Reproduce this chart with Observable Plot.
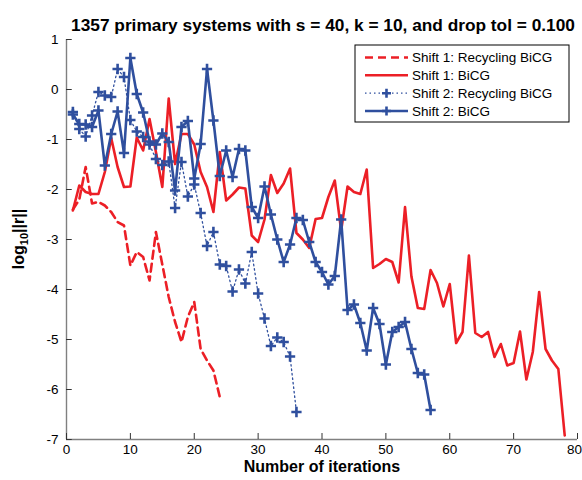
<!DOCTYPE html>
<html><head><meta charset="utf-8">
<script src="https://cdn.jsdelivr.net/npm/d3@7"></script>
<script src="https://cdn.jsdelivr.net/npm/@observablehq/plot@0.6"></script>
<style>
body{margin:0;background:#fff;}
#chart{width:582px;height:480px;}
svg{overflow:visible;}
</style></head><body><div id="chart"></div>
<script>
const title = "1357 primary systems with s = 40, k = 10, and drop tol = 0.100";
const xLabel = "Number of iterations";
const xTicks = [0,10,20,30,40,50,60,70,80];
const yTicks = [1,0,-1,-2,-3,-4,-5,-6,-7];
const seriesNames = ["Shift 1: Recycling BiCG","Shift 1: BiCG","Shift 2: Recycling BiCG","Shift 2: BiCG"];

const shift1Recycling = [-2.4,-2.2,-1.55,-2.28,-2.25,-2.32,-2.45,-2.65,-2.72,-3.52,
  -3.25,-3.35,-3.82,-2.85,-3.5,-4.15,-4.65,-5.05,-4.55,-4.25,
  -5.19,-5.42,-5.62,-6.15];
const shift1BiCG = [-2.42,-1.92,-2.05,-2.09,-2.09,-1.65,-0.97,-1.55,-1.95,-1.94,
  -0.96,-1.22,-0.59,-1.25,-1.95,-0.18,-1.49,-0.89,-0.89,-1.1,
  -1.65,-1.95,-2.45,-1.25,-2.22,-2.1,-1.96,-1.98,-2.92,-3.05,
  -2.6,-1.71,-2.07,-1.88,-1.58,-2.87,-3.0,-3.17,-2.59,-2.57,
  -2.15,-1.82,-2.82,-1.94,-2.05,-2.09,-1.6,-3.57,-3.49,-3.39,
  -3.45,-3.86,-2.35,-3.74,-4.37,-4.39,-3.61,-3.87,-4.34,-3.89,
  -5.07,-4.85,-3.32,-4.87,-4.95,-4.85,-5.35,-5.09,-5.52,-5.47,
  -4.84,-5.8,-5.25,-4.05,-5.19,-5.42,-5.59,-6.92];
const shift2Recycling = [-0.45,-0.79,-0.94,-0.52,-0.05,-0.12,-0.15,0.41,0.25,-0.61,
  -0.84,-0.95,-1.1,-1.39,-1.51,-1.44,-2.37,-1.45,-2.14,-1.9,
  -2.47,-3.13,-2.85,-3.5,-3.53,-4.04,-3.6,-3.88,-3.25,-4.08,
  -4.58,-5.13,-4.96,-5.05,-5.34,-6.45];
const shift2BiCG = [-0.5,-0.69,-0.7,-0.75,-0.42,-1.52,-0.89,-0.44,-1.27,0.63,
  -0.09,-0.46,-1.04,-1.1,-0.88,-1.05,-2.02,-0.75,-0.63,-1.78,
  -1.09,0.41,-0.62,-1.73,-1.22,-1.75,-1.19,-1.22,-2.35,-2.57,
  -1.94,-2.5,-3.0,-3.45,-3.1,-2.57,-2.61,-3.05,-3.45,-3.65,
  -3.9,-3.73,-2.6,-4.41,-4.3,-4.67,-5.22,-4.37,-4.69,-5.5,
  -4.85,-4.75,-4.65,-5.19,-5.67,-5.7,-6.41];

const red = "#ec1f26", blue = "#2f4f9e";
const rows = a => a.map((v, i) => ({it: i + 1, v}));
const r1 = rows(shift1Recycling), r2 = rows(shift1BiCG), r3 = rows(shift2Recycling), r4 = rows(shift2BiCG);
const fmt = d => String(d);
const xTicksInner = xTicks.slice(0, -1), xTickLast = xTicks.slice(-1);

const svg = Plot.plot({
  width: 582, height: 480,
  marginLeft: 66, marginRight: 5, marginTop: 39, marginBottom: 41,
  x: {domain: [0, 80]},
  y: {domain: [-7, 1]},
  style: {fontFamily: "'Liberation Sans', Arial, Helvetica, sans-serif", fontSize: "13.5px", color: "#000", background: "#fff", overflow: "visible"},
  marks: [
    Plot.ruleX([0], {stroke: "#808080", strokeWidth: 1.4}),
    Plot.ruleY([-7], {stroke: "#808080", strokeWidth: 1.4}),
    Plot.ruleY(yTicks, {y: d => d, x1: 0, x2: 0.9, stroke: "#333", strokeWidth: 1}),
    Plot.ruleX(xTicks, {x: d => d, y1: -7, y2: -6.88, stroke: "#333", strokeWidth: 1}),
    Plot.axisX({ticks: xTicksInner, tickSize: 0, tickPadding: 5, tickFormat: fmt, label: null, fontSize: 13.5}),
    Plot.axisX({ticks: xTickLast, tickSize: 0, tickPadding: 5, tickFormat: fmt, label: null, fontSize: 13.5, dx: -3}),
    Plot.axisY({ticks: yTicks, tickSize: 0, tickPadding: 8, tickFormat: fmt, label: null, fontSize: 13.5}),
    Plot.line(r1, {x: "it", y: "v", stroke: red, strokeWidth: 2.6, strokeDasharray: "8,5"}),
    Plot.line(r2, {x: "it", y: "v", stroke: red, strokeWidth: 2.6}),
    Plot.line(r3, {x: "it", y: "v", stroke: blue, strokeWidth: 1.3, strokeDasharray: "1.5,3"}),
    Plot.dot(r3, {x: "it", y: "v", symbol: "plus", r: 3.4, stroke: blue, strokeWidth: 2.6}),
    Plot.line(r4, {x: "it", y: "v", stroke: blue, strokeWidth: 2.6}),
    Plot.dot(r4, {x: "it", y: "v", symbol: "plus", r: 3.4, stroke: blue, strokeWidth: 2.6}),
    Plot.text([xLabel], {text: d => d, frameAnchor: "bottom", dy: 32.5, fontWeight: "bold", fontSize: 16}),
    Plot.text([title], {text: d => d, frameAnchor: "top", dy: -21, fontWeight: "bold", fontSize: 17.3, dx: 1})
  ]
});
document.getElementById("chart").appendChild(svg);

const s = d3.select(svg);
// y label
const yl = s.append("text")
  .attr("transform", "translate(24,239) rotate(-90)")
  .attr("text-anchor", "middle")
  .attr("font-weight", "bold")
  .attr("font-size", 16)
  .attr("fill", "#000");
yl.append("tspan").text("log");
yl.append("tspan").attr("font-size", 11).attr("dy", 4).text("10");
yl.append("tspan").attr("dy", -4).text("||r||");

// legend
const lg = s.append("g").attr("font-size", 13.5).attr("fill", "#000").attr("text-anchor", "start");
lg.append("rect").attr("x", 355).attr("y", 45).attr("width", 214).attr("height", 77)
  .attr("fill", "#fff").attr("stroke", "#000").attr("stroke-width", 1);
const rowsY = [57.5, 75.3, 93.2, 111];
const styles = [
  {stroke: red, w: 2.6, dash: "8,5", mark: false},
  {stroke: red, w: 2.6, dash: null, mark: false},
  {stroke: blue, w: 1.3, dash: "1.5,3", mark: true},
  {stroke: blue, w: 2.6, dash: null, mark: true}
];
seriesNames.forEach((name, i) => {
  const st = styles[i], y = rowsY[i];
  const ln = lg.append("line").attr("x1", 365).attr("x2", 408).attr("y1", y).attr("y2", y)
    .attr("stroke", st.stroke).attr("stroke-width", st.w);
  if (st.dash) ln.attr("stroke-dasharray", st.dash);
  if (st.mark) {
    lg.append("path").attr("d", `M382,${y}h9M386.5,${y - 4.5}v9`)
      .attr("stroke", st.stroke).attr("stroke-width", 2.6).attr("fill", "none");
  }
  lg.append("text").attr("x", 412).attr("y", y).attr("dy", "0.35em").attr("text-anchor", "start").text(name);
});
</script></body></html>
